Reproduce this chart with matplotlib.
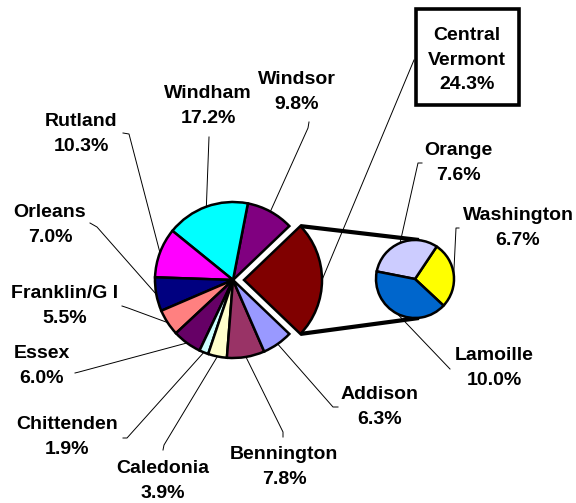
import matplotlib.pyplot as plt
from matplotlib.patches import Rectangle
import numpy as np

plt.rcParams['font.family'] = ['Liberation Sans', 'DejaVu Sans']

# Main pie, listed counter-clockwise starting with the split-out slice
regions = ['Central Vermont', 'Windsor', 'Windham', 'Rutland', 'Orleans',
           'Franklin/G I', 'Essex', 'Chittenden', 'Caledonia', 'Bennington', 'Addison']
shares = [24.3, 9.8, 17.2, 10.3, 7.0, 5.5, 6.0, 1.9, 3.9, 7.8, 6.3]
colors = ['#800000', '#800080', '#00FFFF', '#FF00FF', '#000080', '#FF8080',
          '#660066', '#CCFFFF', '#FFFFCC', '#993366', '#9999FF']

# Central Vermont broken out
sub_regions = ['Washington', 'Orange', 'Lamoille']
sub_shares = [6.7, 7.6, 10.0]
sub_colors = ['#FFFF00', '#CCCCFF', '#0066CC']

W, H = 576, 503

def px(x, y):
    # pixel coords (origin top-left) -> data coords
    return x, H - y

# label block centre and the text-side end of the leader line (pixels)
label_pos = {
    'Central Vermont': ((467, 60), [(414, 60)]),
    'Windsor': ((297, 92), [(309, 122), (308, 128)]),
    'Windham': ((208, 106), [(209, 137)]),
    'Rutland': ((81, 134), [(123, 133), (129, 134)]),
    'Orleans': ((50, 225), [(90, 223), (97, 227)]),
    'Franklin/G I': ((65, 306), [(122, 306), (128, 308)]),
    'Essex': ((42, 366), [(75, 373), (79, 372)]),
    'Chittenden': ((67, 437), [(123, 438), (127, 438)]),
    'Caledonia': ((163, 481), [(163, 450), (164, 445)]),
    'Bennington': ((284, 467), [(283, 437), (283, 432)]),
    'Addison': ((380, 407), [(338, 407), (333, 407)]),
    'Orange': ((458, 163), [(422, 163), (418, 163)]),
    'Washington': ((518, 228), [(459, 228), (456, 228)]),
    'Lamoille': ((494, 368), [(450, 369)]),
}

fig = plt.figure(figsize=(W / 100, H / 100), dpi=100)
ax = fig.add_axes([0, 0, 1, 1])

main_c = px(233, 280)
main_r = 78
sub_c = px(415, 279)
sub_r = 39
edge = dict(edgecolor='black', linewidth=1.8)

start = -shares[0] / sum(shares) * 360 / 2
# pie() explode is in data units here (pixels)
explode = [11] + [0] * (len(shares) - 1)
wedges, _ = ax.pie(shares, colors=colors, startangle=start, explode=explode,
                   center=main_c, radius=main_r, wedgeprops=edge, frame=True)
sub_wedges, _ = ax.pie(sub_shares, colors=sub_colors, startangle=-43,
                       center=sub_c, radius=sub_r, wedgeprops=edge, frame=True)

# thick connectors from the split slice to the second pie
cv = wedges[0]
for ang, sy in [(cv.theta2, 1), (cv.theta1, -1)]:
    a = np.deg2rad(ang)
    x0 = cv.center[0] + main_r * np.cos(a)
    y0 = cv.center[1] + main_r * np.sin(a)
    ax.plot([x0, sub_c[0] + 4], [y0, sub_c[1] + sy * sub_r], color='black',
            lw=3, solid_capstyle='butt', zorder=0)

def draw_label(name, share, wedge):
    (tx, ty), pts = label_pos[name]
    mid = np.deg2rad((wedge.theta1 + wedge.theta2) / 2)
    ex = wedge.center[0] + wedge.r * np.cos(mid)
    ey = wedge.center[1] + wedge.r * np.sin(mid)
    xs = [px(*p)[0] for p in pts] + [ex]
    ys = [px(*p)[1] for p in pts] + [ey]
    ax.plot(xs, ys, color='black', lw=0.7, zorder=0)
    text = name.replace('Central ', 'Central\n')
    ax.text(*px(tx, ty), f'{text}\n{share:.1f}%', ha='center', va='center',
            fontsize=14, fontweight='bold', linespacing=1.55)

for name, share, w in zip(regions, shares, wedges):
    draw_label(name, share, w)
for name, share, w in zip(sub_regions, sub_shares, sub_wedges):
    draw_label(name, share, w)

# box around Central Vermont label
x0, y0 = px(416, 105)
ax.add_patch(Rectangle((x0, y0), 103, 96, fill=False, edgecolor='black', lw=2.6))

ax.set_xlim(0, W)
ax.set_ylim(0, H)
ax.set_aspect('auto')
ax.axis('off')

fig.savefig('out.png', dpi=100)
